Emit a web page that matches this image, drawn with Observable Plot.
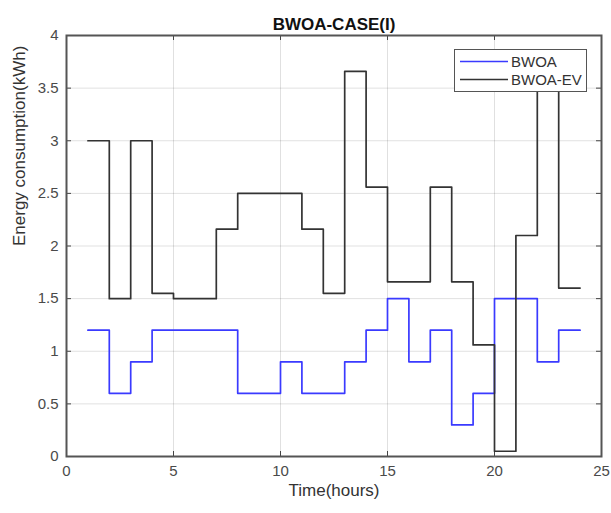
<!DOCTYPE html>
<html>
<head>
<meta charset="utf-8">
<script src="https://cdn.jsdelivr.net/npm/d3@7"></script>
<script src="https://cdn.jsdelivr.net/npm/@observablehq/plot@0.6"></script>
<style>
  html, body { margin: 0; padding: 0; background: #fff; }
  #wrap { position: relative; width: 611px; height: 513px; }
  #legend {
    position: absolute; left: 454px; top: 49px; width: 133px; height: 43px;
    background: #fff; border: 1.5px solid #555; box-sizing: border-box;
    font-family: "Liberation Sans", Arial, sans-serif; font-size: 15px; color: #333;
  }
  #legend .row { position: absolute; left: 5px; display: flex; align-items: center; }
  #legend .row span { margin-left: 3px; }
</style>
</head>
<body>
<div id="wrap"></div>
<script>
const title = "BWOA-CASE(I)";
const xLabel = "Time(hours)";
const yLabel = "Energy consumption(kWh)";
const seriesNames = ["BWOA", "BWOA-EV"];
const seriesColors = ["#3a3aff", "#333333"];
const hours = [1,2,3,4,5,6,7,8,9,10,11,12,13,14,15,16,17,18,19,20,21,22,23,24];
const bwoa   = [1.2,0.6,0.9,1.2,1.2,1.2,1.2,0.6,0.6,0.9,0.6,0.6,0.9,1.2,1.5,0.9,1.2,0.3,0.6,1.5,1.5,0.9,1.2,1.2];
const bwoaEv = [3.0,1.5,3.0,1.55,1.5,1.5,2.16,2.5,2.5,2.5,2.16,1.55,3.66,2.56,1.66,1.66,2.56,1.66,1.06,0.05,2.1,3.8,1.6,1.6];
const xTicks = [0,5,10,15,20,25];
const yTicks = [0,0.5,1,1.5,2,2.5,3,3.5,4];

const rows = [];
hours.forEach((h, i) => {
  rows.push({hour: h, value: bwoa[i], series: seriesNames[0]});
  rows.push({hour: h, value: bwoaEv[i], series: seriesNames[1]});
});

const W = 611, H = 513, mL = 66, mR = 10, mT = 35, mB = 57;
const innerW = W - mL - mR, innerH = H - mT - mB;

const chart = Plot.plot({
  width: W, height: H,
  marginLeft: mL, marginRight: mR, marginTop: mT, marginBottom: mB,
  style: {fontFamily: "'Liberation Sans', Arial, sans-serif", fontSize: "15px", color: "#444", background: "#fff", overflow: "visible"},
  x: {domain: [0, 25]},
  y: {domain: [0, 4]},
  color: {domain: seriesNames, range: seriesColors},
  marks: [
    Plot.gridX(xTicks, {stroke: "#000", strokeOpacity: 0.12, strokeWidth: 1}),
    Plot.gridY(yTicks, {stroke: "#000", strokeOpacity: 0.12, strokeWidth: 1}),
    Plot.tickX(xTicks, {x: d => d, stroke: "#444", insetTop: innerH - 5}),
    Plot.tickX(xTicks, {x: d => d, stroke: "#444", insetBottom: innerH - 5}),
    Plot.tickY(yTicks, {y: d => d, stroke: "#444", insetRight: innerW - 5}),
    Plot.tickY(yTicks, {y: d => d, stroke: "#444", insetLeft: innerW - 5}),
    Plot.line(rows, {x: "hour", y: "value", z: "series", stroke: "series", curve: "step-after", strokeWidth: 1.7}),
    Plot.frame({stroke: "#555", strokeWidth: 2}),
    Plot.axisX(xTicks, {tickSize: 0, tickPadding: 9, label: null, fontSize: 15, fill: "#4a4a4a"}),
    Plot.axisY(yTicks, {tickSize: 0, tickPadding: 8, label: null, fontSize: 15, fill: "#4a4a4a", tickFormat: d => String(d)}),
    Plot.text([title], {frameAnchor: "top", dy: -18, fontWeight: "bold", fontSize: 17, fill: "#111"}),
    Plot.text([xLabel], {frameAnchor: "bottom", dy: 39, fontSize: 17, fill: "#333"}),
    Plot.text([yLabel], {frameAnchor: "left", dx: -47, rotate: -90, fontSize: 17, fill: "#333"})
  ]
});

const wrap = document.getElementById("wrap");
wrap.appendChild(chart);

const legend = document.createElement("div");
legend.id = "legend";
seriesNames.forEach((name, i) => {
  const row = document.createElement("div");
  row.className = "row";
  row.style.top = (i === 0 ? 3 : 21) + "px";
  row.innerHTML = `<svg width="48" height="15"><line x1="0" x2="48" y1="7.5" y2="7.5" stroke="${seriesColors[i]}" stroke-width="1.5"/></svg><span>${name}</span>`;
  legend.appendChild(row);
});
wrap.appendChild(legend);
</script>
</body>
</html>
